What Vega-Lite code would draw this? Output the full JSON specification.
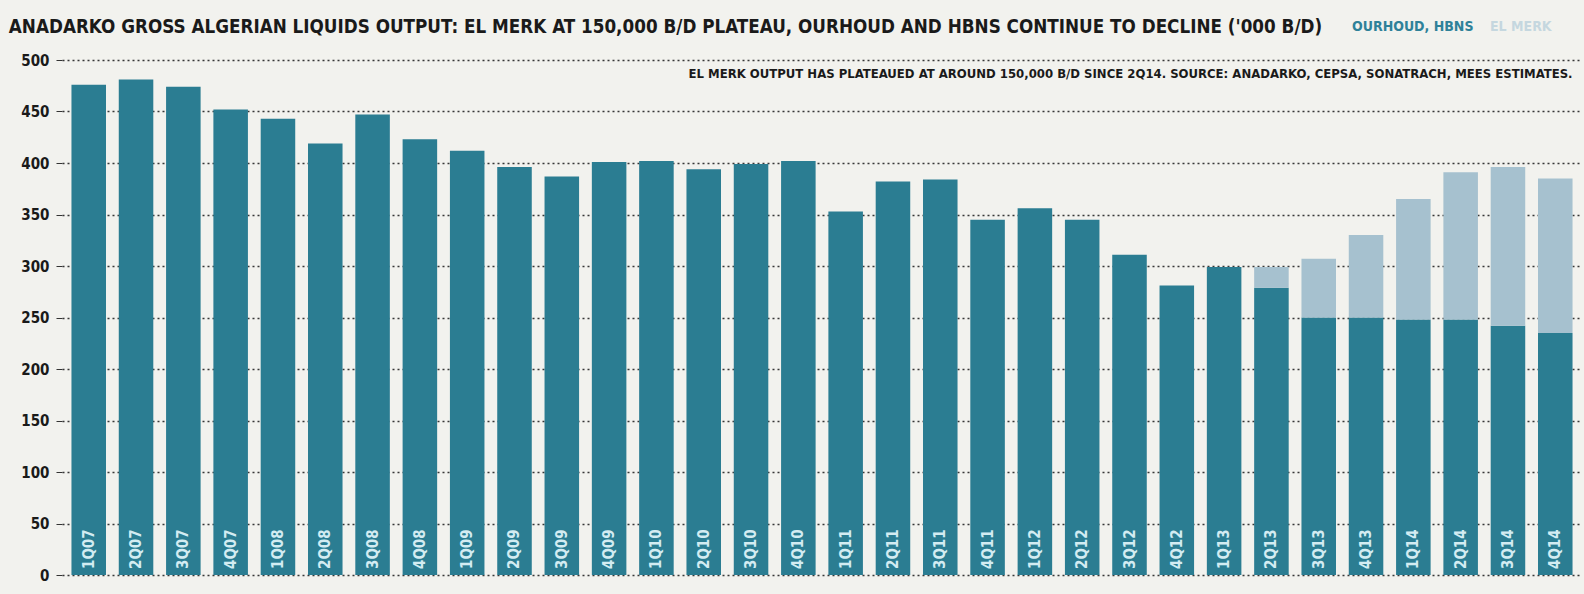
{
  "$schema": "https://vega.github.io/schema/vega-lite/v6.json",
  "width": 1584,
  "height": 594,
  "autosize": {"type": "fit", "contains": "padding"},
  "padding": {"left": 8, "top": 18, "right": 2, "bottom": 11},
  "background": "#f2f2ee",
  "config": {
    "view": {"stroke": null},
    "font": "'DejaVu Sans Condensed', sans-serif"
  },
  "title": {
    "text": "ANADARKO GROSS ALGERIAN LIQUIDS OUTPUT: EL MERK AT 150,000 B/D PLATEAU, OURHOUD AND HBNS CONTINUE TO DECLINE ('000 B/D)",
    "anchor": "start",
    "frame": "bounds",
    "fontSize": 18.7,
    "fontWeight": "bold",
    "color": "#1a1a1a",
    "offset": 16,
    "dx": -12
  },
  "datasets": {
    "bars": [
      {"quarter": "1Q07", "series": "OURHOUD, HBNS", "value": 476},
      {"quarter": "2Q07", "series": "OURHOUD, HBNS", "value": 481},
      {"quarter": "3Q07", "series": "OURHOUD, HBNS", "value": 474},
      {"quarter": "4Q07", "series": "OURHOUD, HBNS", "value": 452},
      {"quarter": "1Q08", "series": "OURHOUD, HBNS", "value": 443},
      {"quarter": "2Q08", "series": "OURHOUD, HBNS", "value": 419},
      {"quarter": "3Q08", "series": "OURHOUD, HBNS", "value": 447},
      {"quarter": "4Q08", "series": "OURHOUD, HBNS", "value": 423},
      {"quarter": "1Q09", "series": "OURHOUD, HBNS", "value": 412},
      {"quarter": "2Q09", "series": "OURHOUD, HBNS", "value": 396},
      {"quarter": "3Q09", "series": "OURHOUD, HBNS", "value": 387},
      {"quarter": "4Q09", "series": "OURHOUD, HBNS", "value": 401},
      {"quarter": "1Q10", "series": "OURHOUD, HBNS", "value": 402},
      {"quarter": "2Q10", "series": "OURHOUD, HBNS", "value": 394},
      {"quarter": "3Q10", "series": "OURHOUD, HBNS", "value": 399},
      {"quarter": "4Q10", "series": "OURHOUD, HBNS", "value": 402},
      {"quarter": "1Q11", "series": "OURHOUD, HBNS", "value": 353},
      {"quarter": "2Q11", "series": "OURHOUD, HBNS", "value": 382},
      {"quarter": "3Q11", "series": "OURHOUD, HBNS", "value": 384},
      {"quarter": "4Q11", "series": "OURHOUD, HBNS", "value": 345},
      {"quarter": "1Q12", "series": "OURHOUD, HBNS", "value": 356},
      {"quarter": "2Q12", "series": "OURHOUD, HBNS", "value": 345},
      {"quarter": "3Q12", "series": "OURHOUD, HBNS", "value": 311},
      {"quarter": "4Q12", "series": "OURHOUD, HBNS", "value": 281},
      {"quarter": "1Q13", "series": "OURHOUD, HBNS", "value": 299},
      {"quarter": "2Q13", "series": "OURHOUD, HBNS", "value": 279},
      {"quarter": "2Q13", "series": "EL MERK", "value": 20},
      {"quarter": "3Q13", "series": "OURHOUD, HBNS", "value": 250},
      {"quarter": "3Q13", "series": "EL MERK", "value": 57},
      {"quarter": "4Q13", "series": "OURHOUD, HBNS", "value": 250},
      {"quarter": "4Q13", "series": "EL MERK", "value": 80},
      {"quarter": "1Q14", "series": "OURHOUD, HBNS", "value": 248},
      {"quarter": "1Q14", "series": "EL MERK", "value": 117},
      {"quarter": "2Q14", "series": "OURHOUD, HBNS", "value": 248},
      {"quarter": "2Q14", "series": "EL MERK", "value": 143},
      {"quarter": "3Q14", "series": "OURHOUD, HBNS", "value": 242},
      {"quarter": "3Q14", "series": "EL MERK", "value": 154},
      {"quarter": "4Q14", "series": "OURHOUD, HBNS", "value": 235},
      {"quarter": "4Q14", "series": "EL MERK", "value": 150}
    ],
    "note": [
      {"quarter": "4Q14", "level": 486, "label": "EL MERK OUTPUT HAS PLATEAUED AT AROUND 150,000 B/D SINCE 2Q14. SOURCE: ANADARKO, CEPSA,  SONATRACH, MEES ESTIMATES."}
    ]
  },
  "layer": [
    {
      "data": {"name": "bars"},
      "mark": {"type": "bar"},
      "encoding": {
        "x": {
          "field": "quarter", "type": "nominal", "sort": null,
          "scale": {"paddingInner": 0.27, "paddingOuter": 0.2},
          "axis": null
        },
        "y": {
          "aggregate": "sum", "field": "value", "type": "quantitative",
          "stack": "zero",
          "scale": {"domain": [0, 500], "nice": false},
          "axis": {
            "values": [0, 50, 100, 150, 200, 250, 300, 350, 400, 450, 500],
            "title": null,
            "domain": false,
            "grid": true,
            "gridDash": [2, 3],
            "gridColor": "#222222",
            "gridWidth": 1.3,
            "gridOpacity": 0.9,
            "ticks": true,
            "tickSize": 6,
            "tickColor": "#333333",
            "labelPadding": 7,
            "labelFontSize": 15,
            "labelFontWeight": "bold",
            "labelColor": "#1a1a1a"
          }
        },
        "color": {
          "field": "series", "type": "nominal",
          "scale": {"domain": ["OURHOUD, HBNS", "EL MERK"], "range": ["#2b7d92", "#a6c1cf"]},
          "legend": {
            "orient": "none",
            "legendX": 1276,
            "legendY": -40,
            "direction": "horizontal",
            "title": null,
            "symbolSize": 0,
            "symbolOpacity": 0,
            "symbolStrokeWidth": 0,
            "labelOffset": 0,
            "columnPadding": 2,
            "labelFontSize": 14,
            "labelFontWeight": "bold",
            "encode": {
              "labels": {
                "update": {
                  "fill": {"signal": "datum.label === 'EL MERK' ? '#c5d7df' : '#2e8199'"}
                }
              }
            }
          }
        },
        "order": {"field": "series", "sort": "descending"}
      }
    },
    {
      "data": {"name": "bars"},
      "transform": [{"filter": "datum.series === 'OURHOUD, HBNS'"}],
      "mark": {
        "type": "text",
        "angle": 270,
        "align": "left",
        "baseline": "middle",
        "dx": 6,
        "fontSize": 15,
        "fontWeight": "bold",
        "color": "#d3ecf2"
      },
      "encoding": {
        "x": {"field": "quarter", "type": "nominal", "sort": null},
        "y": {"datum": 0},
        "text": {"field": "quarter"}
      }
    },
    {
      "data": {"name": "note"},
      "mark": {
        "type": "text",
        "align": "right",
        "baseline": "middle",
        "fontSize": 13,
        "fontWeight": "bold",
        "color": "#1a1a1a"
      },
      "encoding": {
        "x": {"field": "quarter", "type": "nominal", "sort": null, "bandPosition": 1},
        "y": {"field": "level", "type": "quantitative"},
        "text": {"field": "label"}
      }
    }
  ]
}
